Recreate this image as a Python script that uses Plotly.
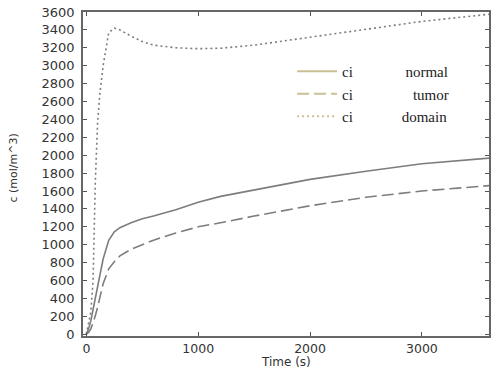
import plotly.graph_objects as go

# Time (s)
time_s = [0, 20, 40, 60, 80, 100, 120, 150, 200, 250, 300, 400, 500, 600,
          800, 1000, 1200, 1500, 2000, 2500, 3000, 3600]
# concentration ci (mol/m^3)
ci_normal = [0, 60, 150, 280, 400, 520, 660, 840, 1050, 1145, 1190, 1245, 1290, 1320,
             1390, 1475, 1540, 1610, 1730, 1820, 1905, 1967]
ci_tumor = [0, 20, 60, 130, 205, 300, 410, 565, 730, 810, 875, 950, 1000, 1050,
            1130, 1200, 1245, 1320, 1435, 1530, 1600, 1660]
ci_domain = [0, 120, 250, 600, 1700, 2350, 2680, 3000, 3370, 3420, 3400, 3330, 3270, 3230,
             3200, 3190, 3195, 3230, 3320, 3410, 3495, 3575]

legend_labels = ["normal", "tumor", "domain"]
legend_gaps = [14, 16, 13]

line_gray = "#7d7d7d"
legend_tan = "#cbbf94"
dashes = ["solid", "12px,5px", "2px,3px"]

fig = go.Figure()
for ys, dsh in [(ci_normal, dashes[0]), (ci_tumor, dashes[1]), (ci_domain, dashes[2])]:
    fig.add_trace(go.Scatter(x=time_s, y=ys, mode="lines", showlegend=False,
                             line=dict(color=line_gray, width=1.6, dash=dsh)))

for lab, gap, dsh in zip(legend_labels, legend_gaps, dashes):
    fig.add_trace(go.Scatter(x=[None], y=[None], mode="lines",
                             name="ci" + "\u00a0" * gap + lab,
                             line=dict(color=legend_tan, width=2, dash=dsh)))

ytickfont = dict(family="DejaVu Sans", size=13, color="#333333")
xtickfont = dict(family="DejaVu Sans", size=12.5, color="#333333")
fig.update_layout(
    width=494, height=369,
    margin=dict(l=83, r=5, t=12, b=33),
    paper_bgcolor="white", plot_bgcolor="white",
    showlegend=True,
    legend=dict(x=0.515, y=0.867, xanchor="left", yanchor="top",
                bgcolor="rgba(0,0,0,0)", itemwidth=40,
                font=dict(family="Liberation Serif", size=15, color="#222222"),
                tracegroupgap=0),
    xaxis=dict(range=[-30, 3600], tickvals=[0, 1000, 2000, 3000],
               ticks="inside", ticklen=4, tickcolor="#555", showgrid=False,
               zeroline=False, showline=True, linecolor="#666", linewidth=1.5,
               mirror="ticks", tickfont=xtickfont, automargin=False,
               ticklabelstandoff=0),
    yaxis=dict(range=[-20, 3600], tickvals=list(range(0, 3601, 200)),
               ticks="inside", ticklen=4, tickcolor="#555", showgrid=False,
               zeroline=False, showline=True, linecolor="#666", linewidth=1.5,
               mirror="ticks", tickfont=ytickfont, automargin=False,
               ticklabelstandoff=4),
    annotations=[
        dict(text="Time (s)", xref="paper", yref="paper", x=0.5, y=-0.08,
             xanchor="center", yanchor="middle", showarrow=False,
             font=dict(family="DejaVu Sans", size=12, color="#333333")),
        dict(text="c (mol/m^3)", xref="paper", yref="paper", x=-0.17, y=0.52,
             xanchor="center", yanchor="middle", textangle=-90, showarrow=False,
             font=dict(family="DejaVu Sans", size=11, color="#333333")),
    ],
)

fig.write_html("out.html", config={"displayModeBar": False},
               post_script="document.body.style.margin='0';document.body.style.overflow='hidden';")
